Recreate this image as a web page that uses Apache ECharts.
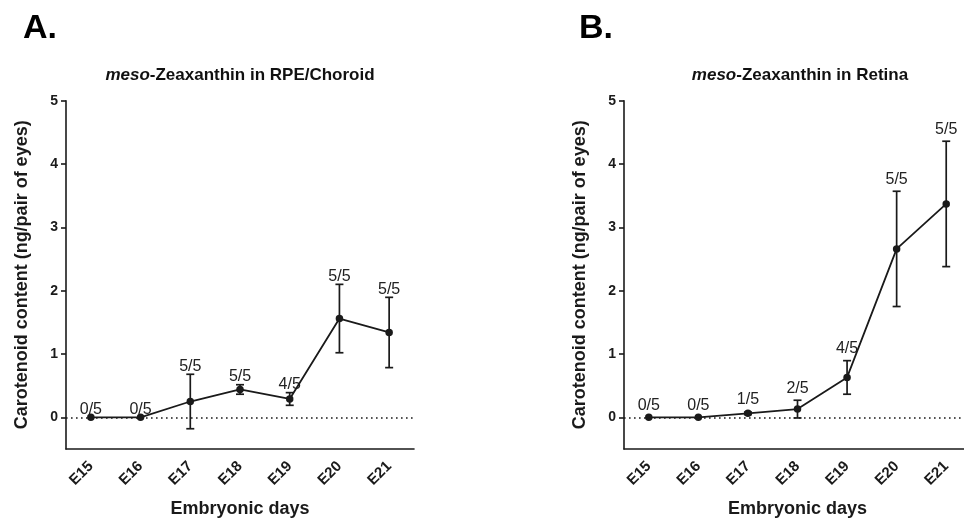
<!DOCTYPE html>
<html>
<head>
<meta charset="utf-8">
<script src="https://cdn.jsdelivr.net/npm/echarts@6/dist/echarts.min.js"></script>
<style>html,body{margin:0;padding:0;background:#fff}#c{width:964px;height:519px}</style>
</head>
<body>
<div id="c"></div>
<script>
// ---- data ----
const days = ['E15','E16','E17','E18','E19','E20','E21'];
const yTicks = [0,1,2,3,4,5];
const meanA = [0, 0, 0.25, 0.44, 0.29, 1.56, 1.34];
const errA  = [0, 0, 0.43, 0.075, 0.10, 0.54, 0.555];
const fracA = ['0/5','0/5','5/5','5/5','4/5','5/5','5/5'];
const meanB = [0, 0, 0.063, 0.13, 0.63, 2.66, 3.37];
const errB  = [0, 0, 0.02, 0.14, 0.265, 0.91, 0.99];
const fracB = ['0/5','0/5','1/5','2/5','4/5','5/5','5/5'];
const titleA = 'RPE/Choroid';
const titleB = 'Retina';
const yName = 'Carotenoid content (ng/pair of eyes)';
const xName = 'Embryonic days';

const FONT = '"Liberation Sans", Arial, Helvetica, sans-serif';
const INK = '#1a1a1a';

const chart = echarts.init(document.getElementById('c'), null, {renderer:'canvas'});

function xAxisCfg(gi){
  return {
    type:'category', gridIndex:gi, data:days, boundaryGap:true,
    axisLine:{onZero:false,lineStyle:{color:INK,width:1.6}},
    axisTick:{alignWithLabel:true,length:5,lineStyle:{color:INK,width:1.6}},
    axisLabel:{rotate:45,margin:15,color:INK,fontFamily:FONT,fontWeight:'bold',fontSize:15},
    name:xName, nameLocation:'middle', nameGap:51,
    nameTextStyle:{color:INK,fontFamily:FONT,fontWeight:'bold',fontSize:18}
  };
}
function yAxisCfg(gi){
  return {
    type:'value', gridIndex:gi, min:-0.5, max:5,
    splitLine:{show:false},
    axisLine:{show:true,onZero:false,lineStyle:{color:INK,width:1.6}},
    axisTick:{show:true,length:5,customValues:yTicks,lineStyle:{color:INK,width:1.6}},
    axisLabel:{customValues:yTicks,margin:8,color:INK,fontFamily:FONT,fontWeight:'bold',fontSize:14},
    name:yName, nameLocation:'middle', nameGap:35,
    nameTextStyle:{color:INK,fontFamily:FONT,fontWeight:'bold',fontSize:18}
  };
}
function errSeries(gi, mean, err, frac, off){
  return {
    type:'custom', xAxisIndex:gi, yAxisIndex:gi, z:1, silent:true,
    data: mean.map((m,i)=>[i,m,err[i]]),
    renderItem:function(params, api){
      const x = api.value(0), m = api.value(1), e = api.value(2);
      const c = api.coord([x,m]);
      const t = api.coord([x,m+e]);
      const b = api.coord([x,m-e]);
      const st = {stroke:INK,lineWidth:1.7};
      const ch = [];
      if (e > 0){
        ch.push({type:'line',shape:{x1:c[0],y1:t[1],x2:c[0],y2:b[1]},style:st});
        ch.push({type:'line',shape:{x1:c[0]-4,y1:t[1],x2:c[0]+4,y2:t[1]},style:st});
        ch.push({type:'line',shape:{x1:c[0]-4,y1:b[1],x2:c[0]+4,y2:b[1]},style:st});
      }
      ch.push({type:'text',style:{x:c[0],y:Math.min(t[1],c[1])-off,text:frac[params.dataIndex],
        align:'center',verticalAlign:'middle',fill:'#222',font:'16px '+FONT}});
      return {type:'group',children:ch};
    }
  };
}
function lineSeries(gi, mean){
  return {
    type:'line', xAxisIndex:gi, yAxisIndex:gi, z:3, data:mean,
    symbol:'circle', symbolSize:7.5, color:INK,
    itemStyle:{color:INK}, lineStyle:{color:INK,width:1.8},
    markLine:{silent:true,symbol:['none','none'],label:{show:false},
      lineStyle:{type:[1.6,3.4],color:INK,width:1.6},data:[{yAxis:0}]}
  };
}

chart.setOption({
  animation:false,
  grid:[
    {left:66, top:100.7, width:348, height:348.3, containLabel:false, outerBoundsMode:'none'},
    {left:624, top:100.7, width:347, height:348.3, containLabel:false, outerBoundsMode:'none'}
  ],
  xAxis:[xAxisCfg(0), xAxisCfg(1)],
  yAxis:[yAxisCfg(0), yAxisCfg(1)],
  graphic:[
    {type:'text',left:23,top:12,style:{text:'A.',font:'bold 34px '+FONT,fill:'#000'}},
    {type:'text',left:579,top:12,style:{text:'B.',font:'bold 34px '+FONT,fill:'#000'}},
    {type:'text',x:240,y:75,style:{text:'{i|meso}{b|-Zeaxanthin in '+titleA+'}',align:'center',verticalAlign:'middle',
      rich:{i:{font:'italic bold 17px '+FONT,fill:'#111'},b:{font:'bold 17px '+FONT,fill:'#111'}}}},
    {type:'text',x:800,y:75,style:{text:'{i|meso}{b|-Zeaxanthin in '+titleB+'}',align:'center',verticalAlign:'middle',
      rich:{i:{font:'italic bold 17px '+FONT,fill:'#111'},b:{font:'bold 17px '+FONT,fill:'#111'}}}}
  ],
  series:[
    errSeries(0, meanA, errA, fracA, 8),
    lineSeries(0, meanA),
    errSeries(1, meanB, errB, fracB, 12),
    lineSeries(1, meanB)
  ]
});
</script>
</body>
</html>
